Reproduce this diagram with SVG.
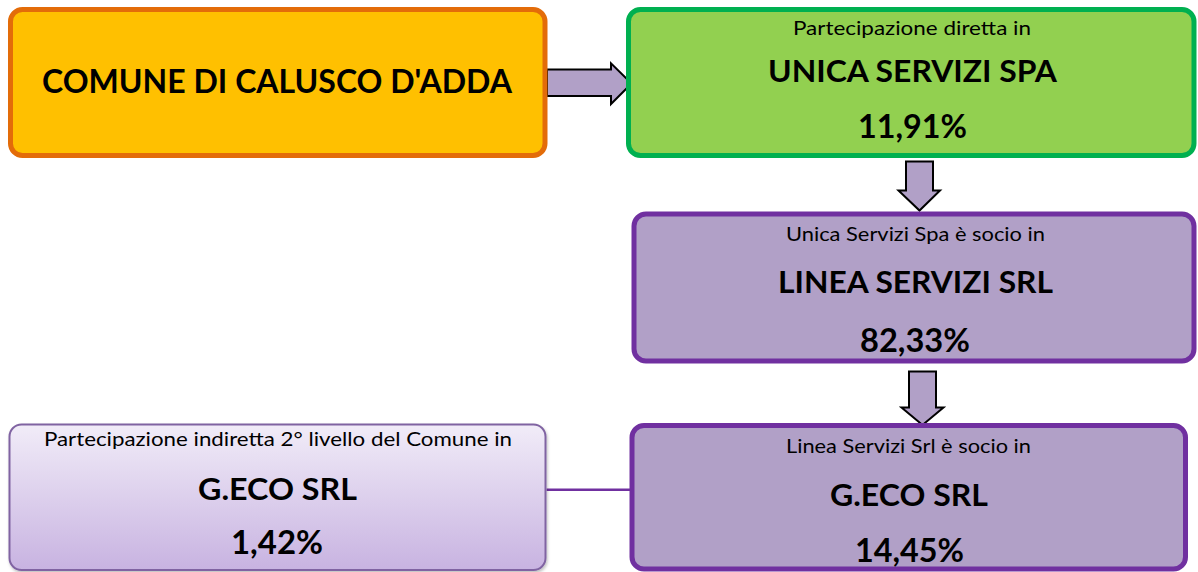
<svg xmlns="http://www.w3.org/2000/svg" width="1198" height="572" viewBox="0 0 1198 572">
<style>
  .t { font-family: Lato, "Open Sans", "Liberation Sans", sans-serif; fill: #000; text-anchor: middle; }
  .sub { font-size: 20px; font-weight: 400; }
  .big { font-size: 31px; font-weight: 700; }
  .pct { font-size: 32px; font-weight: 700; }
  .arrow { fill: #B1A0C7; stroke: #000; stroke-width: 2; stroke-linejoin: miter; }
  .purple { fill: #B1A0C7; stroke: #7030A0; stroke-width: 5; }
</style>
<defs>
  <linearGradient id="g5" x1="0" y1="0" x2="0" y2="1">
    <stop offset="0" stop-color="#F1ECF8"/>
    <stop offset="1" stop-color="#C8B3E1"/>
  </linearGradient>
  <filter id="sh" x="-5%" y="-5%" width="110%" height="115%">
    <feDropShadow dx="1" dy="2" stdDeviation="1.5" flood-color="#000" flood-opacity="0.25"/>
  </filter>
</defs>
<rect width="1198" height="572" fill="#fff"/>

<g id="connectors">
  <path class="arrow" d="M547,69.5 H611 V63.3 L631.5,83.5 L611,104 V96 H547 Z"/>
  <path class="arrow" d="M906,161.5 H933 V190.5 H940 L919.5,210.5 L898.5,190.5 H906 Z"/>
  <path class="arrow" d="M909,371.5 H936 V407.5 H943.5 L922.5,425 L901.5,407.5 H909 Z"/>
  <line x1="546.5" y1="489.7" x2="632" y2="489.7" stroke="#7030A0" stroke-width="2.5"/>
</g>

<g id="comune">
  <rect x="10.5" y="9.5" width="534.5" height="146" rx="12" fill="#FFC000" stroke="#E36C09" stroke-width="5"/>
  <text class="t" x="277" y="93" font-size="32" font-weight="700" textLength="470" lengthAdjust="spacingAndGlyphs">COMUNE DI CALUSCO D'ADDA</text>
</g>

<g id="unica">
  <rect x="628.5" y="9.5" width="565.5" height="146" rx="12" fill="#92D050" stroke="#00B050" stroke-width="5"/>
  <text class="t sub" x="912" y="35" textLength="238" lengthAdjust="spacingAndGlyphs">Partecipazione diretta in</text>
  <text class="t big" x="912.5" y="82.3" textLength="289" lengthAdjust="spacingAndGlyphs">UNICA SERVIZI SPA</text>
  <text class="t pct" x="912.5" y="138" textLength="109" lengthAdjust="spacingAndGlyphs">11,91%</text>
</g>

<g id="linea">
  <rect class="purple" x="634" y="214" width="560" height="147" rx="12"/>
  <text class="t sub" x="915.5" y="241" textLength="259" lengthAdjust="spacingAndGlyphs">Unica Servizi Spa è socio in</text>
  <text class="t big" x="915.5" y="293.3" textLength="275" lengthAdjust="spacingAndGlyphs">LINEA SERVIZI SRL</text>
  <text class="t pct" x="915" y="351.7" textLength="110" lengthAdjust="spacingAndGlyphs">82,33%</text>
</g>

<g id="geco">
  <rect class="purple" x="632" y="425.5" width="553.5" height="143.5" rx="12"/>
  <text class="t sub" x="908.5" y="452.5" textLength="245" lengthAdjust="spacingAndGlyphs">Linea Servizi Srl è socio in</text>
  <text class="t big" x="909" y="506" textLength="158" lengthAdjust="spacingAndGlyphs">G.ECO SRL</text>
  <text class="t pct" x="909.5" y="562" textLength="109" lengthAdjust="spacingAndGlyphs">14,45%</text>
</g>

<g id="geco-indiretta">
  <rect x="9.5" y="424.5" width="536" height="145.5" rx="12" fill="url(#g5)" stroke="#8064A2" stroke-width="2" filter="url(#sh)"/>
  <text class="t sub" x="278" y="446" textLength="468" lengthAdjust="spacingAndGlyphs">Partecipazione indiretta 2° livello del Comune in</text>
  <text class="t big" x="277.5" y="500" textLength="159" lengthAdjust="spacingAndGlyphs">G.ECO SRL</text>
  <text class="t pct" x="277" y="554" textLength="92" lengthAdjust="spacingAndGlyphs">1,42%</text>
</g>
</svg>
